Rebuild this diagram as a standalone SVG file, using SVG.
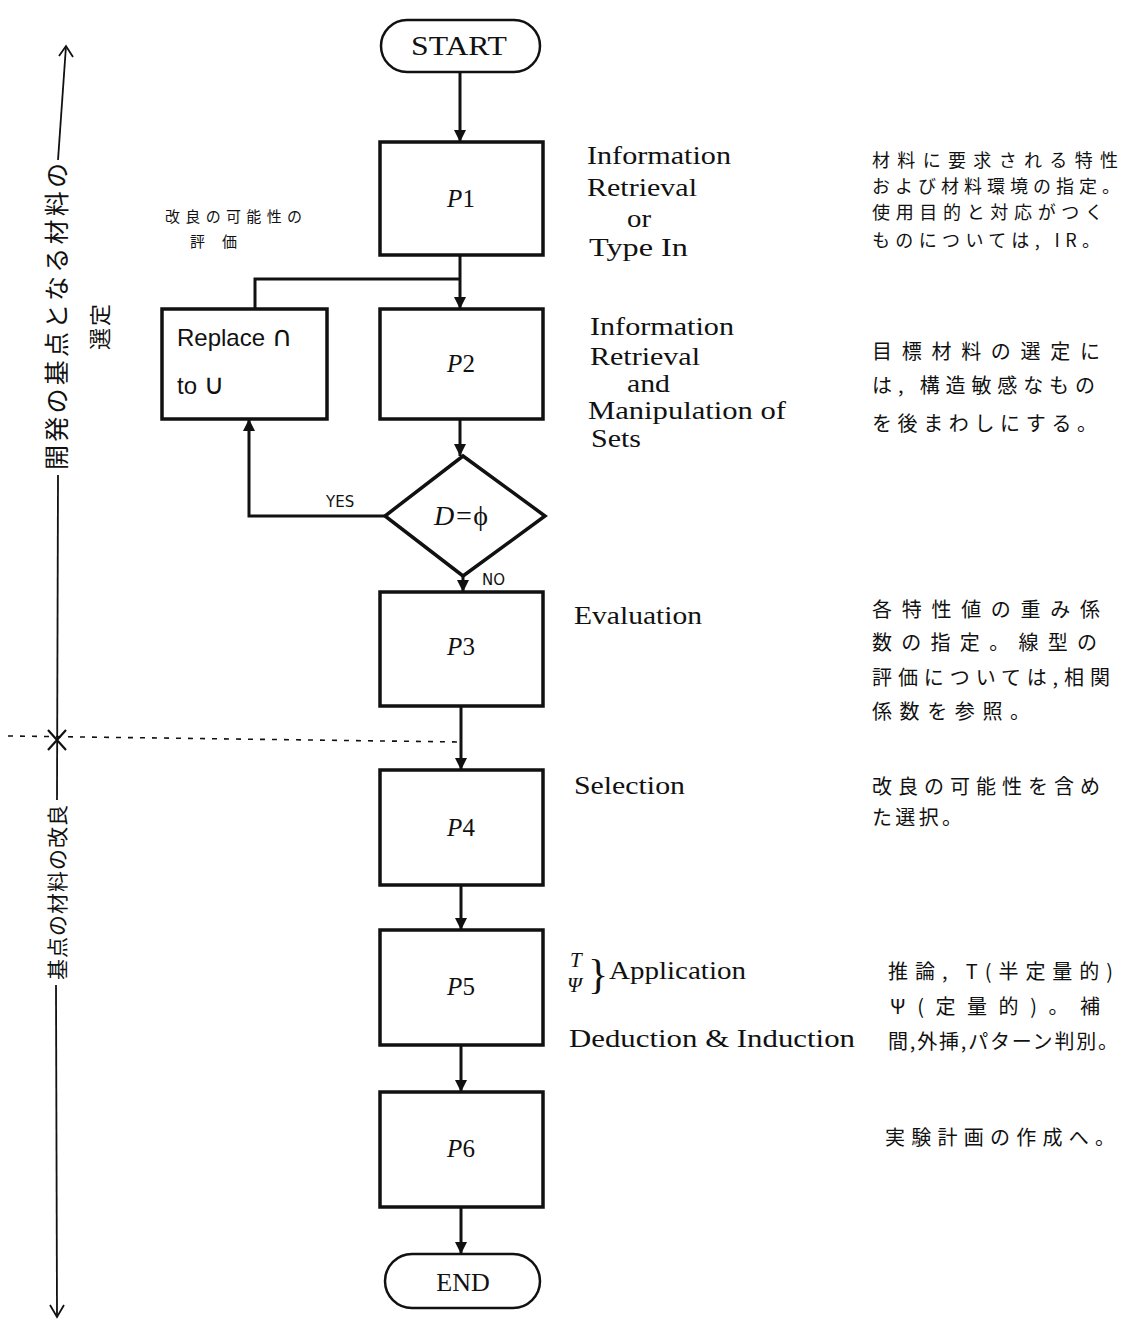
<svg xmlns="http://www.w3.org/2000/svg" width="1123" height="1323" viewBox="0 0 1123 1323">
<style>
.box{fill:#fff;stroke:#111;stroke-width:3.5}
.term{fill:#fff;stroke:#111;stroke-width:2.5}
.con{fill:none;stroke:#111;stroke-width:3}
.thin{fill:none;stroke:#111;stroke-width:1.8}
.lbl{font-family:"Liberation Serif",serif;font-size:26px;fill:#111}
.pl{font-family:"Liberation Serif",serif;font-size:25px;fill:#111;text-anchor:middle}
.jp{font-family:"Noto Sans CJK JP","Noto Sans",sans-serif;font-size:20px;fill:#111}
.jp1{font-family:"Noto Sans CJK JP","Noto Sans",sans-serif;font-size:18px;fill:#111}
.jps{font-family:"Noto Sans CJK JP","Noto Sans",sans-serif;font-size:15px;fill:#111}
.rep{font-family:"Liberation Sans",sans-serif;font-size:24px;fill:#111}
.yn{font-family:"DejaVu Sans",sans-serif;font-size:15px;fill:#111}
</style>
<defs>
<marker id="ah" viewBox="0 0 10 10" refX="10" refY="5" markerWidth="12" markerHeight="12" markerUnits="userSpaceOnUse" orient="auto">
<path d="M0,0 L10,5 L0,10 z" fill="#111"/>
</marker>
</defs>
<rect width="1123" height="1323" fill="#fff"/>

<g id="connectors">
<path class="con" d="M460,72 V142" marker-end="url(#ah)"/>
<path class="con" d="M460,255 V309" marker-end="url(#ah)"/>
<path class="con" d="M255,309 V279 H460"/>
<path class="con" d="M460,419 V456" marker-end="url(#ah)"/>
<path class="con" d="M385,516 H249 V419" marker-end="url(#ah)"/>
<path class="con" d="M463,576 V592" marker-end="url(#ah)"/>
<path class="con" d="M461,706 V770" marker-end="url(#ah)"/>
<path class="con" d="M461,885 V930" marker-end="url(#ah)"/>
<path class="con" d="M461,1045 V1092" marker-end="url(#ah)"/>
<path class="con" d="M461,1207 V1254" marker-end="url(#ah)"/>
<text class="yn" x="326" y="507">YES</text>
<text class="yn" x="482" y="585">NO</text>
</g>

<g id="start">
<rect class="term" x="381" y="20" width="159" height="52" rx="26"/>
<text class="pl" x="459" y="55" style="font-size:27px" textLength="96" lengthAdjust="spacingAndGlyphs">START</text>
</g>
<g id="p1">
<rect class="box" x="380" y="142" width="163" height="113"/>
<text class="pl" x="461" y="207"><tspan font-style="italic">P</tspan>1</text>
</g>
<g id="p2">
<rect class="box" x="380" y="309" width="163" height="110"/>
<text class="pl" x="461" y="372"><tspan font-style="italic">P</tspan>2</text>
</g>
<g id="replace">
<rect class="box" x="162" y="309" width="165" height="110"/>
<text class="rep" x="177" y="346">Replace <tspan font-family="DejaVu Sans,sans-serif" font-size="28">∩</tspan></text>
<text class="rep" x="177" y="394">to <tspan font-family="DejaVu Sans,sans-serif" font-size="28">∪</tspan></text>
</g>
<g id="decision">
<polygon class="box" points="463,456 545,516 463,576 385,516"/>
<text class="pl" x="461" y="525" font-style="italic" style="font-size:28px">D=<tspan font-style="normal">ϕ</tspan></text>
</g>
<g id="p3">
<rect class="box" x="380" y="592" width="163" height="114"/>
<text class="pl" x="461" y="655"><tspan font-style="italic">P</tspan>3</text>
</g>
<g id="p4">
<rect class="box" x="380" y="770" width="163" height="115"/>
<text class="pl" x="461" y="836"><tspan font-style="italic">P</tspan>4</text>
</g>
<g id="p5">
<rect class="box" x="380" y="930" width="163" height="115"/>
<text class="pl" x="461" y="995"><tspan font-style="italic">P</tspan>5</text>
</g>
<g id="p6">
<rect class="box" x="380" y="1092" width="163" height="115"/>
<text class="pl" x="461" y="1157"><tspan font-style="italic">P</tspan>6</text>
</g>
<g id="end">
<rect class="term" x="385" y="1254" width="155" height="54" rx="27"/>
<text class="pl" x="463" y="1291" style="font-size:26px">END</text>
</g>

<g id="middle-labels">
<text class="lbl" x="587" y="164" textLength="144" lengthAdjust="spacingAndGlyphs">Information</text>
<text class="lbl" x="587" y="196" textLength="110" lengthAdjust="spacingAndGlyphs">Retrieval</text>
<text class="lbl" x="627" y="227" textLength="24" lengthAdjust="spacingAndGlyphs">or</text>
<text class="lbl" x="589" y="256" textLength="99" lengthAdjust="spacingAndGlyphs">Type In</text>
<text class="lbl" x="590" y="335" textLength="144" lengthAdjust="spacingAndGlyphs">Information</text>
<text class="lbl" x="590" y="365" textLength="110" lengthAdjust="spacingAndGlyphs">Retrieval</text>
<text class="lbl" x="627" y="392" textLength="43" lengthAdjust="spacingAndGlyphs">and</text>
<text class="lbl" x="588" y="419" textLength="198" lengthAdjust="spacingAndGlyphs">Manipulation of</text>
<text class="lbl" x="591" y="447" textLength="50" lengthAdjust="spacingAndGlyphs">Sets</text>
<text class="lbl" x="574" y="624" textLength="128" lengthAdjust="spacingAndGlyphs">Evaluation</text>
<text class="lbl" x="574" y="794" textLength="111" lengthAdjust="spacingAndGlyphs">Selection</text>
<text class="lbl" x="570" y="967" font-style="italic" style="font-size:21px">T</text>
<text class="lbl" x="567" y="992" font-style="italic" style="font-size:21px">Ψ</text>
<text class="lbl" x="588" y="988" style="font-size:42px">}</text>
<text class="lbl" x="609" y="979" textLength="137" lengthAdjust="spacingAndGlyphs">Application</text>
<text class="lbl" x="569" y="1047" textLength="286" lengthAdjust="spacingAndGlyphs">Deduction &amp; Induction</text>
</g>

<g id="notes">
<text class="jp1" x="872" y="167" textLength="246" lengthAdjust="spacing">材料に要求される特性</text>
<text class="jp1" x="872" y="193" textLength="248" lengthAdjust="spacing">および材料環境の指定。</text>
<text class="jp1" x="872" y="219" textLength="231" lengthAdjust="spacing">使用目的と対応がつく</text>
<text class="jp1" x="872" y="247" textLength="228" lengthAdjust="spacing">ものについては, IR。</text>

<text class="jp" x="872" y="359" textLength="228" lengthAdjust="spacing">目標材料の選定に</text>
<text class="jp" x="872" y="393" textLength="223" lengthAdjust="spacing">は, 構造敏感なもの</text>
<text class="jp" x="872" y="431" textLength="225" lengthAdjust="spacing">を後まわしにする。</text>

<text class="jp" x="872" y="617" textLength="228" lengthAdjust="spacing">各特性値の重み係</text>
<text class="jp" x="872" y="650" textLength="225" lengthAdjust="spacing">数の指定。線型の</text>
<text class="jp" x="872" y="685" textLength="238" lengthAdjust="spacing">評価については,相関</text>
<text class="jp" x="872" y="719" textLength="158" lengthAdjust="spacing">係数を参照。</text>

<text class="jp" x="872" y="794" textLength="228" lengthAdjust="spacing">改良の可能性を含め</text>
<text class="jp" x="872" y="825" textLength="90" lengthAdjust="spacing">た選択。</text>

<text class="jp" x="888" y="979" textLength="225" lengthAdjust="spacing">推論, T(半定量的)</text>
<text class="jp" x="890" y="1014" textLength="210" lengthAdjust="spacing">Ψ(定量的)。補</text>
<text class="jp" x="888" y="1049" textLength="230" lengthAdjust="spacing">間,外挿,パターン判別。</text>

<text class="jp" x="885" y="1145" textLength="230" lengthAdjust="spacing">実験計画の作成へ。</text>

<text class="jps" x="165" y="222" textLength="137" lengthAdjust="spacing">改良の可能性の</text>
<text class="jps" x="190" y="247" textLength="47" lengthAdjust="spacing">評価</text>
</g>

<g id="left-annotation">
<path class="thin" d="M66,46 L58,160"/>
<path class="thin" d="M59,56 L66,46 L73,57"/>
<path class="thin" d="M58,475 L57,800"/>
<path class="thin" d="M56,985 L57,1316"/>
<path class="thin" d="M50,1305 L57,1317 L64,1305"/>
<path d="M48,730 L66,750 M66,730 L48,750" stroke="#111" stroke-width="2.2" fill="none"/>
<path d="M8,736 L460,742" stroke="#111" stroke-width="1.6" stroke-dasharray="5,7" fill="none"/>
<text class="jp" style="font-size:25px" transform="translate(66,470) rotate(-90)" textLength="307" lengthAdjust="spacing">開発の基点となる材料の</text>
<text class="jp" style="font-size:22px" transform="translate(108,350) rotate(-90)" textLength="46" lengthAdjust="spacing">選定</text>
<text class="jp" style="font-size:21px" transform="translate(65,980) rotate(-90)" textLength="175" lengthAdjust="spacing">基点の材料の改良</text>
</g>
</svg>
